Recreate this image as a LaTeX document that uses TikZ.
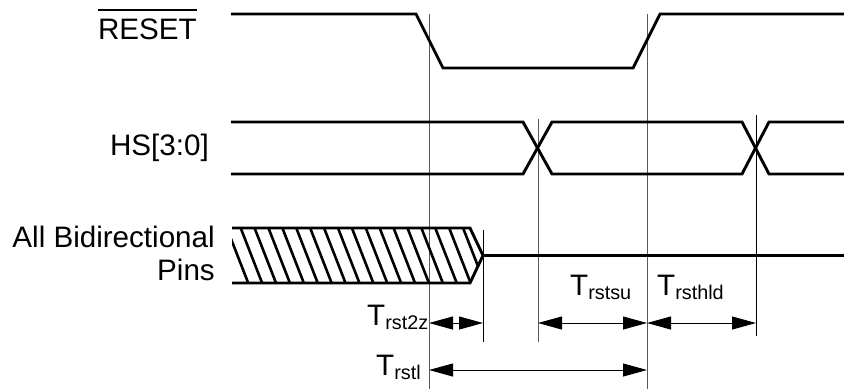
\documentclass[tikz,border=0pt]{standalone}
\usepackage{fontspec}
\setmainfont{Liberation Sans}
\usetikzlibrary{arrows.meta}
\newcommand{\Tlab}[1]{T\raisebox{-4.5pt}{\fontsize{19.8}{20}\selectfont #1}}
\tikzset{
  sig/.style={line width=2.9pt, line join=miter},
  hatch/.style={line width=2.6pt},
  guide/.style={line width=1pt, black!65},
  guideb/.style={line width=1pt, black},
  dim/.style={line width=1pt, {Triangle[length=24pt,width=13pt]}-{Triangle[length=24pt,width=13pt]}},
  lab/.style={inner sep=0pt, font=\fontsize{29.6}{32}\selectfont}
}
\begin{document}
\begin{tikzpicture}[x=1pt,y=-1pt]
\useasboundingbox (0,0) rectangle (844,389);
% guide lines
\draw[guide] (429,14) coordinate (g1t) -- (429,389) coordinate (g1b);
\draw[guide] (647,14) coordinate (g2t) -- (647,389) coordinate (g2b);
\draw[guide] (538,119) coordinate (g3t) -- (538,342) coordinate (g3b);
\draw[guideb] (483,230) coordinate (g4t) -- (483,342) coordinate (g4b);
\draw[guideb] (756,115) coordinate (g5t) -- (756,336) coordinate (g5b);
% RESET
\draw[sig] (231,14) -- (416,14) -- (443,68) -- (633,68) -- (660,14) -- (844,14);
% HS[3:0]
\draw[sig] (231,122) -- (523,122) -- (552,174) -- (742,174) -- (769,122) -- (844,122);
\draw[sig] (231,174) -- (523,174) -- (552,122) -- (742,122) -- (769,174) -- (844,174);
% Bidirectional
\begin{scope}
\clip (232,228) -- (470,228) -- (483,255.5) -- (470,283) -- (232,283) -- cycle;
\foreach \i in {0,...,20} {\draw[hatch] (226+13.9*\i,226) -- (249+13.9*\i,285);}
\end{scope}
\draw[sig] (232,228) -- (470,228) -- (483,255.5) -- (470,283) -- (232,283);
\draw[sig] (483,255.5) -- (844,255.5);
% labels
\node[lab, anchor=base east] (reset) at (197,39) {RESET};
\draw[line width=1.5pt] ([yshift=8pt]reset.north west) -- ([yshift=8pt]reset.north east);
\node[lab, anchor=base east] (hs) at (209,155) {HS[3:0]};
\node[lab, anchor=base east] (bidir) at (215,247) {All Bidirectional};
\node[lab, anchor=base east] (pins) at (215,280) {Pins};
\node[lab, anchor=base west] (t2z) at (367,325) {\Tlab{rst2z}};
\node[lab, anchor=base west] (tl) at (376,375) {\Tlab{rstl}};
\node[lab, anchor=base west] (tsu) at (570,295) {\Tlab{rstsu}};
\node[lab, anchor=base west] (thld) at (657,295) {\Tlab{rsthld}};
% dimension arrows
\coordinate (a1) at (429,323); \coordinate (a2) at (483,323);
\coordinate (b1) at (538,323); \coordinate (b2) at (647,323);
\coordinate (c1) at (647,323); \coordinate (c2) at (756,323);
\coordinate (d1) at (429,370); \coordinate (d2) at (647,370);
\draw[dim] (a1) -- (a2);
\draw[dim] (b1) -- (b2);
\draw[dim] (c1) -- (c2);
\draw[dim] (d1) -- (d2);
\end{tikzpicture}
\end{document}
